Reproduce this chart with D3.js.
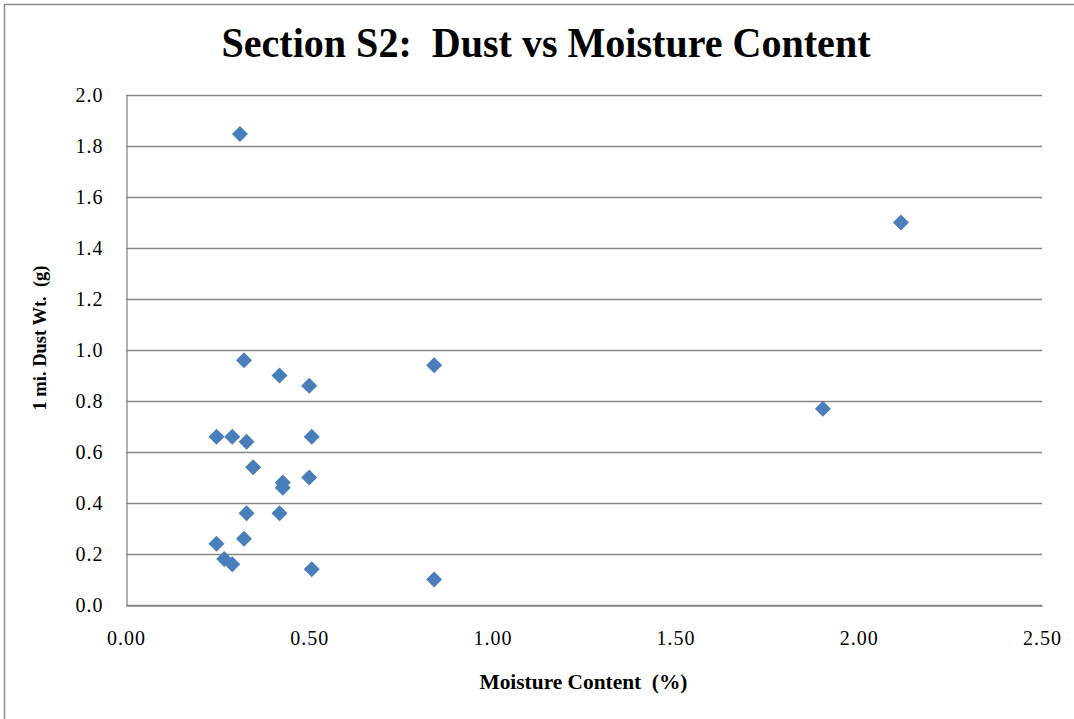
<!DOCTYPE html>
<html>
<head>
<meta charset="utf-8">
<script src="https://cdn.jsdelivr.net/npm/d3@7"></script>
<style>
  body { margin: 0; background: #fff; }
  svg text { font-family: 'Liberation Serif', 'Times New Roman', serif; fill: #000; }
</style>
</head>
<body>
<div id="chart"></div>
<script>
const moisture = [0.311, 0.322, 0.419, 0.500, 0.841, 0.247, 0.290, 0.329, 0.507, 0.347,
                  0.428, 0.428, 0.500, 0.329, 0.419, 0.322, 0.247, 0.268, 0.290, 0.507,
                  0.841, 2.115, 1.902]
const dust = [1.847, 0.96, 0.90, 0.86, 0.94, 0.66, 0.66, 0.64, 0.66, 0.54,
              0.48, 0.46, 0.50, 0.36, 0.36, 0.26, 0.24, 0.18, 0.16, 0.14,
              0.10, 1.50, 0.77]
const xTicks = [0, 0.5, 1, 1.5, 2, 2.5]
const yTicks = [0, 0.2, 0.4, 0.6, 0.8, 1.0, 1.2, 1.4, 1.6, 1.8, 2.0]

const SIZE = Object.freeze({ WIDTH: 1074, HEIGHT: 719 })
const PLOT = Object.freeze({ LEFT: 126, RIGHT: 1042, TOP: 95, BOTTOM: 605 })

const points = moisture.map((m, i) => ({ m, d: dust[i] }))

const svg = d3.select('#chart')
  .append('svg')
  .attr('width', SIZE.WIDTH)
  .attr('height', SIZE.HEIGHT)

// outer chart border
svg.append('rect')
  .attr('x', 4.5).attr('y', 4.5)
  .attr('width', SIZE.WIDTH + 10).attr('height', SIZE.HEIGHT + 10)
  .attr('fill', 'none')
  .attr('stroke', '#8c8c8c')
  .attr('stroke-width', 1.5)

const x = d3.scaleLinear().domain([0, 2.5]).range([PLOT.LEFT, PLOT.RIGHT])
const y = d3.scaleLinear().domain([0, 2.0]).range([PLOT.BOTTOM, PLOT.TOP])

// gridlines
svg.append('g')
  .selectAll('line')
  .data(yTicks)
  .enter()
  .append('line')
  .attr('x1', PLOT.LEFT).attr('x2', PLOT.RIGHT)
  .attr('y1', d => Math.round(y(d)) + 0.5).attr('y2', d => Math.round(y(d)) + 0.5)
  .attr('stroke', '#878787')
  .attr('stroke-width', 1.3)

// y axis
const yAxis = svg.append('g')
  .attr('transform', `translate(${PLOT.LEFT + 0.5},0)`)
  .call(d3.axisLeft(y).tickValues(yTicks).tickFormat(d3.format('.1f')).tickSize(0).tickPadding(23))
yAxis.select('.domain').attr('stroke', '#878787').attr('stroke-width', 1.3)
yAxis.selectAll('text')
  .style('font-size', '20px')
  .style('letter-spacing', '1px')
  .attr('dy', '0.3em')

// x axis
const xAxis = svg.append('g')
  .attr('transform', `translate(0,${PLOT.BOTTOM + 0.5})`)
  .call(d3.axisBottom(x).tickValues(xTicks).tickFormat(d3.format('.2f')).tickSize(0).tickPadding(25))
xAxis.select('.domain').attr('stroke', '#878787').attr('stroke-width', 1.3)
xAxis.selectAll('text')
  .style('font-size', '20px')
  .style('letter-spacing', '1px')

// points
svg.append('g')
  .selectAll('path')
  .data(points)
  .enter()
  .append('path')
  .attr('d', d3.symbol(d3.symbolSquare, 128))
  .attr('transform', d => `translate(${x(d.m)},${y(d.d)}) rotate(45)`)
  .attr('fill', '#4a7ebb')

// titles
svg.append('text')
  .attr('x', 546).attr('y', 57)
  .attr('text-anchor', 'middle')
  .attr('textLength', 649)
  .attr('lengthAdjust', 'spacingAndGlyphs')
  .style('font-size', '42px')
  .style('font-weight', 'bold')
  .style('white-space', 'pre')
  .text('Section S2:  Dust vs Moisture Content')

svg.append('text')
  .attr('x', 583.5).attr('y', 689)
  .attr('text-anchor', 'middle')
  .attr('textLength', 208)
  .attr('lengthAdjust', 'spacingAndGlyphs')
  .style('font-size', '21px')
  .style('font-weight', 'bold')
  .style('white-space', 'pre')
  .text('Moisture Content  (%)')

svg.append('text')
  .attr('transform', 'translate(46,338) rotate(-90)')
  .attr('text-anchor', 'middle')
  .attr('textLength', 145)
  .attr('lengthAdjust', 'spacingAndGlyphs')
  .style('font-size', '19px')
  .style('font-weight', 'bold')
  .style('white-space', 'pre')
  .text('1 mi. Dust Wt.  (g)')
</script>
</body>
</html>
